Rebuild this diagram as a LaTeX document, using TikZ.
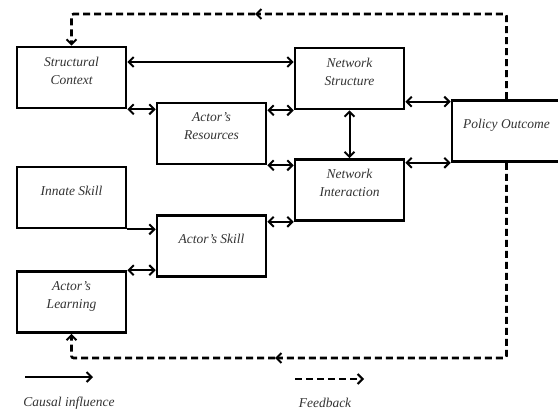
\documentclass[tikz,border=0pt]{standalone}
\usepackage{fontspec}
\setmainfont{Liberation Serif}
\usetikzlibrary{arrows.meta}

\begin{document}
\begin{tikzpicture}[x=1pt,y=-1pt,
  >={Straight Barb[length=5pt,width=10pt,line width=2pt]},
  box/.style={draw, line width=2.6pt, fill=white, minimum width=109pt, minimum height=61pt,
    inner sep=0pt, align=center, text depth=14pt, text=black!80, font=\itshape\fontsize{13.5}{18}\selectfont},
  link/.style={<->, line width=2pt},
  fb/.style={->, line width=2.6pt, dash pattern=on 7pt off 4pt, rounded corners=2pt},
  legend/.style={text=black!80, font=\itshape\fontsize{13.5}{16}\selectfont}]
\useasboundingbox (0,0) rectangle (558,412);
% boxes
\node[box] (sc) at (71.5,77.5) {Structural\\Context};
\node[box] (ar) at (211.5,133.5) {Actor’s\\Resources};
\node[box] (is) at (71.5,197.5) {Innate Skill};
\node[box] (as) at (211.5,246) {Actor’s Skill};
\node[box] (al) at (71.5,302) {Actor’s\\Learning};
\node[box] (ns) at (349.5,78.5) {Network\\Structure};
\node[box] (ni) at (349.5,190) {Network\\Interaction};
\node[box] (po) at (506.5,131) {Policy Outcome};
% causal links
\draw[link] ([yshift=15.5pt]sc.east) -- ([yshift=15.5pt]sc.east -| ns.west);
\draw[link] (sc.south east) -- (sc.south east -| ar.west);
\draw[link] (ns.south west -| ar.east) -- (ns.south west);
\draw[link] (ar.south east) -- (ar.south east -| ni.west);
\draw[link] (ns.south) -- (ni.north);
\draw[link] ([yshift=-2.5pt]po.north west -| ns.east) -- ([yshift=-2.5pt]po.north west);
\draw[link] (po.south west -| ni.east) -- (po.south west);
\draw[->, line width=2pt] (is.south east) -- (is.south east -| as.west);
\draw[link] (ni.south west -| as.east) -- (ni.south west);
\draw[link] (al.north east) -- (al.north east -| as.west);
% feedback loops
\coordinate (fbtop) at (255,14);
\coordinate (fbbot) at (275,358);
\draw[fb] (po.north) |- (fbtop);
\draw[fb] (fbtop) -| (sc.north);
\draw[fb] (po.south) |- (fbbot);
\draw[fb] (fbbot) -| (al.south);
% legend
\coordinate (ca) at (25,377);
\coordinate (cb) at (93,377);
\draw[->, line width=2pt] (ca) -- (cb);
\node[legend] (cl) at (69,403) {Causal influence};
\coordinate (fa) at (295,379);
\coordinate (fz) at (364,379);
\draw[fb] (fa) -- (fz);
\node[legend] (fl) at (325,403) {Feedback};
\end{tikzpicture}
\end{document}
